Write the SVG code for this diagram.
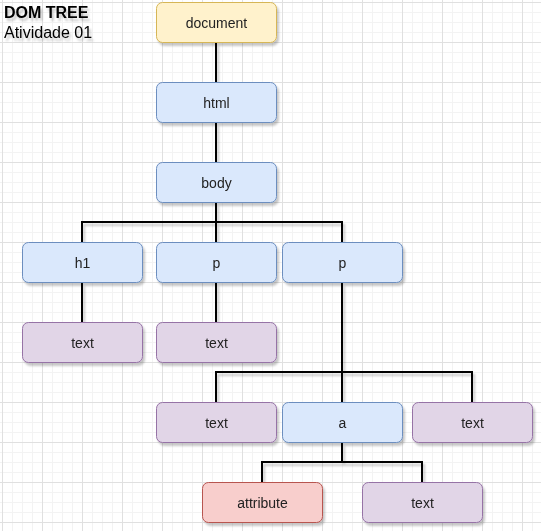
<svg xmlns="http://www.w3.org/2000/svg" width="541" height="531" viewBox="0 0 541 531">
<defs>
<pattern id="grid" patternUnits="userSpaceOnUse" x="2" y="2" width="40" height="40">
<path d="M10.5 0V40M20.5 0V40M30.5 0V40M0 10.5H40M0 20.5H40M0 30.5H40" stroke="#f3f3f3" stroke-width="1" fill="none"/>
<path d="M0.5 0V40M0 0.5H40" stroke="#e0e0e0" stroke-width="1" fill="none"/>
</pattern>
<filter id="sh" x="-20%" y="-20%" width="140%" height="160%">
<feDropShadow dx="2" dy="3" stdDeviation="1.2" flood-color="#000" flood-opacity="0.22"/>
</filter>
</defs>
<style>
.n rect{stroke-width:1}
.doc rect{fill:#fff2cc;stroke:#d6b656}
.el rect{fill:#dae8fc;stroke:#6c8ebf}
.tx rect{fill:#e1d5e7;stroke:#9673a6}
.at rect{fill:#f8cecc;stroke:#b85450}
.n text{font-family:"Liberation Sans",Arial,sans-serif;font-size:14px;fill:#222;text-anchor:middle}
.title{font-family:"Liberation Sans",Arial,sans-serif;font-size:16px;fill:#000}
#connectors path{fill:none;stroke:#000;stroke-width:2}
</style>
<rect width="541" height="531" fill="#fff"/>
<rect width="541" height="531" fill="url(#grid)"/>
<g id="title" filter="url(#sh)">
<text class="title" x="4" y="18" font-weight="bold">DOM TREE</text>
<text class="title" x="4" y="38">Atividade 01</text>
</g>
<g id="connectors" filter="url(#sh)">
<path d="M216 43V83"/>
<path d="M216 123V163"/>
<path d="M216 203V222H82V243"/>
<path d="M216 203V243"/>
<path d="M216 222H342V243"/>
<path d="M82 283V323"/>
<path d="M216 283V323"/>
<path d="M342 283V372H216V403"/>
<path d="M342 283V403"/>
<path d="M342 372H472V403"/>
<path d="M342 443V462H262V483"/>
<path d="M342 462H422V483"/>
</g>
<g filter="url(#sh)">
<g id="document" class="n doc"><rect x="156.5" y="2.5" width="120" height="40" rx="6"/><text x="216.5" y="27.5">document</text></g>
<g id="html" class="n el"><rect x="156.5" y="82.5" width="120" height="40" rx="6"/><text x="216.5" y="107.5">html</text></g>
<g id="body" class="n el"><rect x="156.5" y="162.5" width="120" height="40" rx="6"/><text x="216.5" y="187.5">body</text></g>
<g id="h1" class="n el"><rect x="22.5" y="242.5" width="120" height="40" rx="6"/><text x="82.5" y="267.5">h1</text></g>
<g id="p1" class="n el"><rect x="156.5" y="242.5" width="120" height="40" rx="6"/><text x="216.5" y="267.5">p</text></g>
<g id="p2" class="n el"><rect x="282.5" y="242.5" width="120" height="40" rx="6"/><text x="342.5" y="267.5">p</text></g>
<g id="text-h1" class="n tx"><rect x="22.5" y="322.5" width="120" height="40" rx="6"/><text x="82.5" y="347.5">text</text></g>
<g id="text-p1" class="n tx"><rect x="156.5" y="322.5" width="120" height="40" rx="6"/><text x="216.5" y="347.5">text</text></g>
<g id="text-p2a" class="n tx"><rect x="156.5" y="402.5" width="120" height="40" rx="6"/><text x="216.5" y="427.5">text</text></g>
<g id="a" class="n el"><rect x="282.5" y="402.5" width="120" height="40" rx="6"/><text x="342.5" y="427.5">a</text></g>
<g id="text-p2b" class="n tx"><rect x="412.5" y="402.5" width="120" height="40" rx="6"/><text x="472.5" y="427.5">text</text></g>
<g id="attribute" class="n at"><rect x="202.5" y="482.5" width="120" height="40" rx="6"/><text x="262.5" y="507.5">attribute</text></g>
<g id="text-a" class="n tx"><rect x="362.5" y="482.5" width="120" height="40" rx="6"/><text x="422.5" y="507.5">text</text></g>
</g>
</svg>
